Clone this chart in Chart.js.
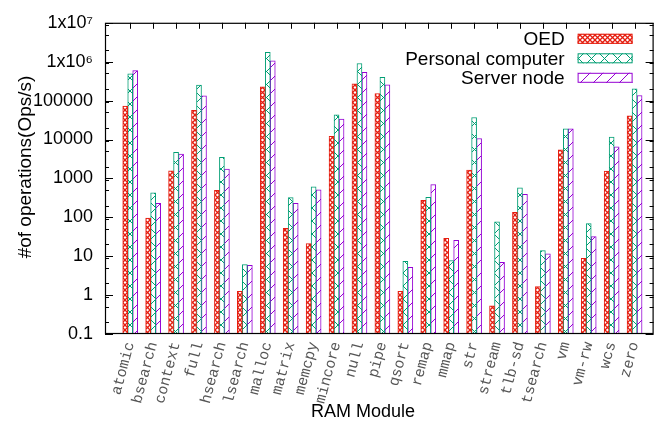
<!DOCTYPE html>
<html>
<head>
<meta charset="utf-8">
<title>RAM Module operations</title>
<script src="https://cdn.jsdelivr.net/npm/chart.js@4.4.1/dist/chart.umd.min.js"></script>
<style>
    html, body { margin: 0; padding: 0; background: #fff; }
    #wrap { width: 658px; height: 423px; }
</style>
</head>
<body>
<div id="wrap"><canvas id="chart"></canvas></div>
<script>
// RAM module benchmarks (x axis)
const modules = ['atomic', 'bsearch', 'context', 'full', 'hsearch', 'lsearch', 'malloc', 'matrix',
    'memcpy', 'mincore', 'null', 'pipe', 'qsort', 'remap', 'mmap', 'str', 'stream', 'tlb-sd',
    'tsearch', 'vm', 'vm-rw', 'wcs', 'zero'];

// operations per second
const oedOps = [72000, 96, 1570, 56000, 490, 1.25, 226000, 52, 21, 12100, 269000, 152000,
    1.25, 275, 29, 1630, 0.53, 135, 1.66, 5430, 8.8, 1540, 40500];
const pcOps = [486000, 427, 4660, 249000, 3500, 6.1, 1750000, 321, 603, 42900, 898000, 395000,
    7.4, 327, 7.7, 36800, 76, 569, 13.9, 18800, 69, 11500, 202000];
const serverOps = [590000, 227, 4240, 132000, 1725, 5.8, 1050000, 227, 507, 33500, 535000, 254000,
    5.15, 689, 25.7, 10600, 7.0, 388, 11.5, 18800, 32, 6460, 135000];

const seriesNames = ['OED', 'Personal computer', 'Server node'];

// y axis tick values and their printed labels
const yTickValues = [0.1, 1, 10, 100, 1000, 10000, 100000, 1e6, 1e7];
const yTickLabels = ['0.1', '1', '10', '100', '1000', '10000', '100000', '1x10\u2076', '1x10\u2077'];
const yMinorSteps = [2, 5, 9];

const SANS = '"Liberation Sans", Arial, Helvetica, sans-serif';

// gnuplot-like fill patterns
function makePattern(color, kind) {
    const size = kind === 'dense' ? 5 : 13;
    const c = document.createElement('canvas');
    c.width = size;
    c.height = size;
    const g = c.getContext('2d');
    g.fillStyle = '#fff';
    g.fillRect(0, 0, size, size);
    g.strokeStyle = color;
    g.lineWidth = kind === 'dense' ? 1.3 : 1;
    g.beginPath();
    // "/" diagonal
    g.moveTo(-1, size + 1);
    g.lineTo(size + 1, -1);
    if (kind !== 'slash') {
        // "\" diagonal
        g.moveTo(-1, -1);
        g.lineTo(size + 1, size + 1);
    }
    g.stroke();
    return g.createPattern(c, 'repeat');
}

const colors = ['#e51e10', '#009e73', '#9400d3'];
const patterns = [
    makePattern(colors[0], 'dense'),
    makePattern(colors[1], 'cross'),
    makePattern(colors[2], 'slash')
];

const toPoints = arr => arr.map((v, i) => ({ x: i, y: v }));

// frame, inward ticks, legend and axis titles drawn gnuplot style
const gnuplotFrame = {
    id: 'gnuplotFrame',
    afterDatasetsDraw(chart) {
        const { ctx, chartArea: a, scales: { x, y } } = chart;
        ctx.save();
        ctx.strokeStyle = '#000';
        ctx.lineWidth = 1;
        ctx.beginPath();
        yTickValues.forEach((v, k) => {
            const py = Math.round(y.getPixelForValue(v)) + 0.5;
            ctx.moveTo(a.left, py); ctx.lineTo(a.left + 8, py);
            ctx.moveTo(a.right, py); ctx.lineTo(a.right - 8, py);
            if (k < yTickValues.length - 1) {
                yMinorSteps.forEach(m => {
                    const pm = Math.round(y.getPixelForValue(v * m)) + 0.5;
                    ctx.moveTo(a.left, pm); ctx.lineTo(a.left + 4, pm);
                    ctx.moveTo(a.right, pm); ctx.lineTo(a.right - 4, pm);
                });
            }
        });
        modules.forEach((m, i) => {
            const px = Math.round(x.getPixelForValue(i)) + 0.5;
            ctx.moveTo(px, a.top); ctx.lineTo(px, a.top + 6);
        });
        ctx.stroke();
        ctx.lineWidth = 1.2;
        ctx.strokeRect(a.left + 0.5, a.top + 0.5, a.right - a.left - 1, a.bottom - a.top - 1);
        ctx.restore();
    },
    afterDraw(chart) {
        const { ctx, chartArea: a } = chart;
        ctx.save();
        // legend, top right inside the plot
        ctx.font = '19px ' + SANS;
        ctx.textAlign = 'right';
        ctx.textBaseline = 'middle';
        const boxW = 55, boxH = 10;
        const boxRight = a.right - 21;
        chart.data.datasets.forEach((ds, i) => {
            const cy = a.top + 16 + i * 19.5;
            ctx.fillStyle = '#000';
            ctx.fillText(ds.label, boxRight - boxW - 13, cy + 1);
            ctx.fillStyle = ds.backgroundColor;
            ctx.fillRect(boxRight - boxW, cy - boxH / 2, boxW, boxH);
            ctx.strokeStyle = ds.borderColor;
            ctx.lineWidth = 1;
            ctx.strokeRect(boxRight - boxW + 0.5, cy - boxH / 2 + 0.5, boxW - 1, boxH - 1);
        });
        // axis titles
        ctx.fillStyle = '#000';
        ctx.textAlign = 'center';
        ctx.font = '18px ' + SANS;
        ctx.fillText('RAM Module', 363, 412);
        ctx.font = '19px ' + SANS;
        ctx.translate(26, 167);
        ctx.rotate(-Math.PI / 2);
        ctx.fillText('#of operations(Ops/s)', 0, 0);
        ctx.restore();
    }
};

const datasets = [oedOps, pcOps, serverOps].map((vals, i) => ({
    label: seriesNames[i],
    data: toPoints(vals),
    backgroundColor: patterns[i],
    borderColor: colors[i],
    borderWidth: 1,
    barThickness: 5
}));

new Chart(document.getElementById('chart'), {
    type: 'bar',
    data: { datasets },
    options: {
        responsive: true,
        maintainAspectRatio: false,
        devicePixelRatio: 1,
        animation: false,
        layout: { padding: { top: 13, right: 1, left: 0, bottom: 0 } },
        plugins: {
            legend: { display: false },
            tooltip: { enabled: false }
        },
        scales: {
            x: {
                type: 'linear',
                min: -1.1,
                max: 22.83,
                offset: false,
                grid: { display: false, drawTicks: false },
                border: { display: false },
                afterBuildTicks: s => { s.ticks = modules.map((m, i) => ({ value: i })); },
                afterFit: s => { s.height = 89; },
                ticks: {
                    autoSkip: false,
                    minRotation: 75,
                    maxRotation: 75,
                    padding: 6,
                    color: '#555',
                    font: { family: '"Liberation Mono", "DejaVu Sans Mono", monospace', size: 15 },
                    callback: (v, i) => modules[i]
                }
            },
            y: {
                type: 'logarithmic',
                min: 0.1,
                max: 1e7,
                grid: { display: false, drawTicks: false },
                border: { display: false },
                afterBuildTicks: s => { s.ticks = yTickValues.map(v => ({ value: v })); },
                afterFit: s => { s.width = 105; },
                ticks: {
                    padding: 12,
                    color: '#000',
                    font: { family: SANS, size: 18 },
                    callback: (v, i) => yTickLabels[i]
                }
            }
        }
    },
    plugins: [gnuplotFrame]
});
</script>
</body>
</html>
